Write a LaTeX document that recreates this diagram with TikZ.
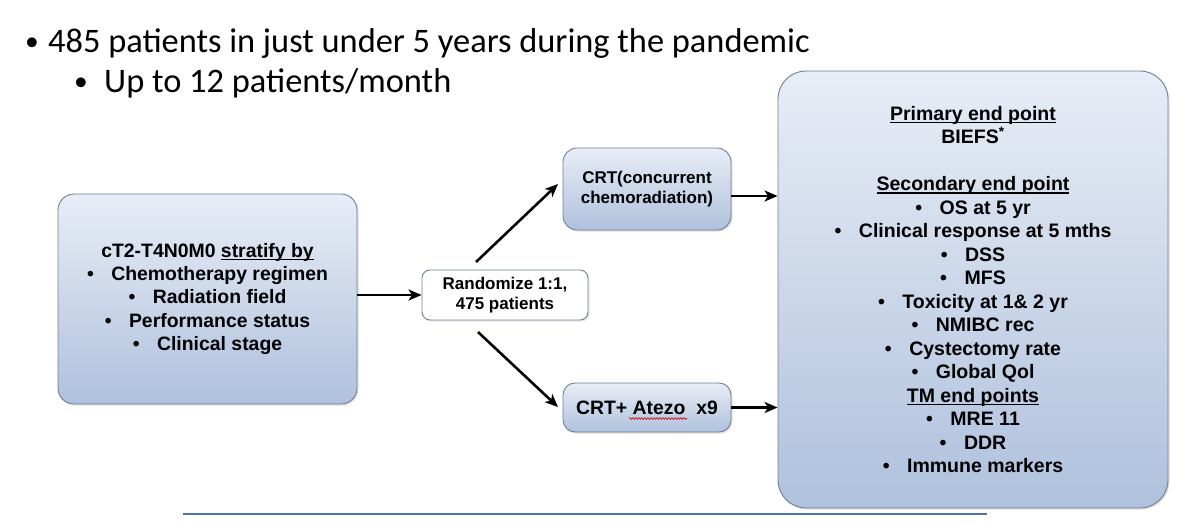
\documentclass[tikz,border=0pt]{standalone}
\usepackage{fontspec}
\setmainfont{Liberation Sans}
\newfontfamily\titlefont{Carlito}
\usetikzlibrary{arrows.meta,calc,shadows,decorations.pathmorphing}
\definecolor{boxtop}{HTML}{E8EDF6}
\definecolor{boxbot}{HTML}{AFC1DD}
\definecolor{boxline}{HTML}{6F7F98}
\definecolor{rulecol}{HTML}{4F72A8}
\tikzset{
  gbox/.style={draw=boxline, line width=0.9pt, rounded corners=#1, top color=boxtop, bottom color=boxbot,
    drop shadow={shadow xshift=1.5pt, shadow yshift=-1.5pt, opacity=0.25}, align=center,
    inner sep=0pt, font=\bfseries},
  wbox/.style={draw=boxline, line width=0.9pt, rounded corners=8pt, fill=white,
    drop shadow={shadow xshift=1.5pt, shadow yshift=-1.5pt, opacity=0.2}, align=center,
    inner sep=0pt, font=\bfseries},
  conn/.style={line width=2.6pt, -{Stealth[length=13pt,width=11pt,inset=3.5pt]}},
  titletext/.style={anchor=base west, inner sep=0pt, font=\titlefont\fontsize{34.4pt}{40pt}\selectfont}
}
\newcommand{\bl}{\textbullet\hspace{0.9em}}
\newcommand{\ulbox}[1]{\setbox0\hbox{#1}\rlap{\rule[-2.8pt]{\wd0}{1.5pt}}\box0}
\newcommand{\tbul}{\raisebox{1.5pt}{\scalebox{0.8}{\textbullet}}}
\begin{document}
\begin{tikzpicture}[x=1pt,y=-1pt]
\useasboundingbox (0,0) rectangle (1190,528);

\node[titletext] (t1) at (25,52) {\makebox[23pt][l]{\tbul}485 patients in just under 5 years during the pandemic};
\node[titletext] (t2) at (74,92) {\makebox[30pt][l]{\tbul}Up to 12 patients/month};

\node[gbox=16pt, minimum width=299pt, minimum height=210pt,
      font=\bfseries\fontsize{19.4pt}{23.2pt}\selectfont] (left) at (207.5,299)
  {cT2-T4N0M0 \ulbox{stratify by}\\
   \bl Chemotherapy regimen\\
   \bl Radiation field\\
   \bl Performance status\\
   \bl Clinical stage};

\node[wbox, minimum width=166pt, minimum height=50pt,
      font=\bfseries\fontsize{17pt}{19.5pt}\selectfont] (rand) at (505,295)
  {Randomize 1:1,\\475 patients};

\node[gbox=14pt, minimum width=168pt, minimum height=82pt,
      font=\bfseries\fontsize{17pt}{20pt}\selectfont] (crt1) at (647,189)
  {CRT(concurrent\\chemoradiation)};

\node[gbox=12pt, minimum width=168pt, minimum height=49pt,
      font=\bfseries\fontsize{19.4pt}{23pt}\selectfont] (crt2) at (647,407.5)
  {CRT+ Atezo\ \ x9};

\node[gbox=28pt, minimum width=390pt, minimum height=437pt,
      font=\bfseries\fontsize{19.5pt}{23.5pt}\selectfont] (right) at (973,289.5)
  {\ulbox{Primary end point}\\
   BIEFS\textsuperscript{*}\\[23.5pt]
   \ulbox{Secondary end point}\\
   \bl OS at 5 yr\\
   \bl Clinical response at 5 mths\\
   \bl DSS\\
   \bl MFS\\
   \bl Toxicity at 1\& 2 yr\\
   \bl NMIBC rec\\
   \bl Cystectomy rate\\
   \bl Global Qol\\
   \ulbox{TM end points}\\
   \bl MRE 11\\
   \bl DDR\\
   \bl Immune markers};

% spell-check wave under Atezo
\draw[red!80!black, line width=0.6pt, decorate, decoration={snake, amplitude=0.9pt, segment length=3pt}]
  ($(crt2.center)+(-18,11)$) -- ($(crt2.center)+(40,11)$);

\coordinate (u1) at (476,262);
\coordinate (u2) at (558,184);
\coordinate (d1) at (478,332);
\coordinate (d2) at (558,407);

\draw[conn] (left.east |- rand.west) -- (rand.west);
\draw[conn] (u1) -- (u2);
\draw[conn] (d1) -- (d2);
\draw[conn] (crt1.east |- 0,196) -- (right.west |- 0,196);
\draw[conn] (crt2.east) -- (crt2.east -| right.west);

\coordinate (r1) at (183,514);
\coordinate (r2) at (987,514);
\draw[rulecol, line width=1.8pt] (r1) -- (r2);
\end{tikzpicture}
\end{document}
